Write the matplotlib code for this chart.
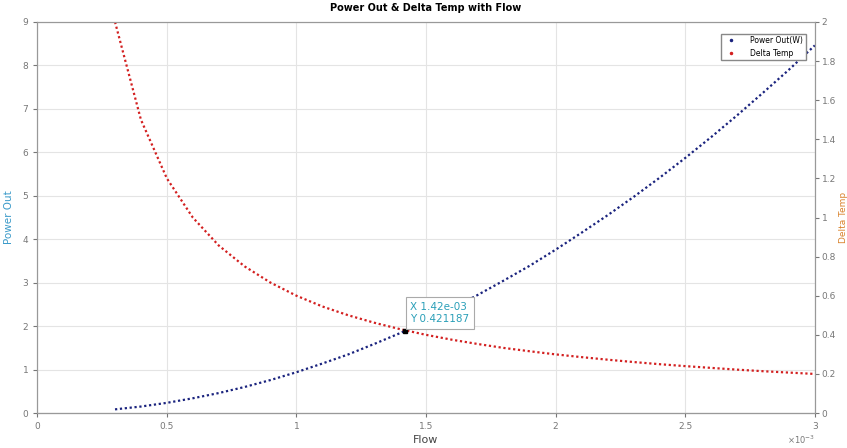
import numpy as np
from matplotlib import pyplot as plt

# flow in units of 1e-3
flow = [0.3, 0.4, 0.5, 0.6, 0.7, 0.8, 0.9, 1.0, 1.1, 1.2, 1.3, 1.4, 1.5, 1.6,
        1.7, 1.8, 1.9, 2.0, 2.1, 2.2, 2.3, 2.4, 2.5, 2.6, 2.7, 2.8, 2.9, 3.0]
power_out = [0.085, 0.15, 0.235, 0.34, 0.46, 0.60, 0.76, 0.94, 1.14, 1.35,
             1.59, 1.84, 2.12, 2.41, 2.72, 3.05, 3.39, 3.76, 4.15, 4.55, 4.97,
             5.41, 5.87, 6.35, 6.85, 7.37, 7.90, 8.46]
delta_temp = [2.0, 1.5, 1.2, 1.0, 0.857, 0.75, 0.667, 0.6, 0.545, 0.5, 0.462,
              0.429, 0.4, 0.375, 0.353, 0.333, 0.316, 0.3, 0.286, 0.273, 0.261,
              0.25, 0.24, 0.231, 0.222, 0.214, 0.207, 0.2]
tip_x, tip_y = 1.42, 0.421187

x = np.array(flow)
fig = plt.figure(figsize=(8.47, 4.48), dpi=100)
ax = fig.add_axes([0.044, 0.078, 0.918, 0.873])
ax2 = ax.twinx()

tick_c = '#777777'
ax.plot(x, power_out, color='#1a237e', ls=(0, (1, 1.2)), lw=1.6)
ax2.plot(x, delta_temp, color='#d32020', ls=(0, (1, 1.2)), lw=1.6)
ax2.plot([tip_x], [tip_y], 's', color='black', ms=3)

ax.set_xlim(0, 3)
ax.set_ylim(0, 9)
ax2.set_ylim(0, 2)
ax.set_xticks([0, 0.5, 1, 1.5, 2, 2.5, 3])
ax.set_xticklabels(['0', '0.5', '1', '1.5', '2', '2.5', '3'])
ax.set_yticks(range(10))
ax2.set_yticks(np.arange(0, 2.01, 0.2))
ax2.set_yticklabels(['0', '0.2', '0.4', '0.6', '0.8', '1', '1.2', '1.4', '1.6', '1.8', '2'])
ax.grid(True, color='#e4e4e4', lw=0.8)
for a in (ax, ax2):
    a.tick_params(labelsize=6.5, colors=tick_c, length=3, width=0.8)
    for s in a.spines.values():
        s.set_color('#999999')
ax.spines['bottom'].set_color('#555555')
ax2.tick_params(axis='y', pad=2)

ax.set_title('Power Out & Delta Temp with Flow', fontsize=7, fontweight='bold', pad=8)
ax.set_xlabel('Flow', fontsize=8, color='#444444', labelpad=3)
ax.set_ylabel('Power Out', fontsize=7.5, color='#3a9ac9', labelpad=6)
ax2.set_ylabel('Delta Temp', fontsize=6.5, color='#d9822b', labelpad=2)
ax.text(1.0, -0.052, r'$\times10^{-3}$', transform=ax.transAxes, fontsize=6,
        color=tick_c, ha='right', va='top')

ax2.annotate('X 1.42e-03\nY 0.421187', xy=(tip_x, tip_y), xytext=(1.44, 0.455),
             fontsize=7.5, color='#2a9fb8', ha='left', va='bottom', linespacing=1.3,
             bbox=dict(boxstyle='square,pad=0.45', fc='white', ec='#aaaaaa', lw=0.8))

h1 = plt.Line2D([], [], color='#1a237e', marker='.', ls='none', ms=3)
h2 = plt.Line2D([], [], color='#d32020', marker='.', ls='none', ms=3)
ax2.legend([h1, h2], ['Power Out(W)', 'Delta Temp'], loc='upper right',
           bbox_to_anchor=(0.993, 0.98), fontsize=5.5, fancybox=False,
           edgecolor='#888888', framealpha=1, borderpad=0.3, handletextpad=1.5)

fig.savefig('out.png', dpi=100)
